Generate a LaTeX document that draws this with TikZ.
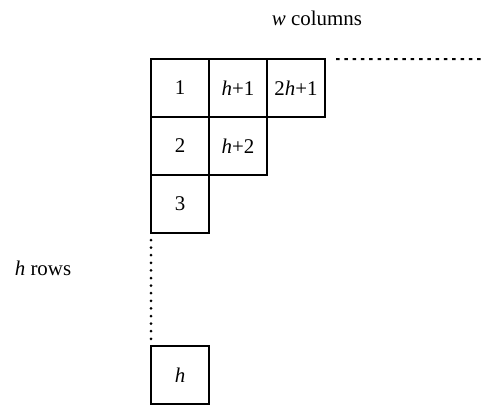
\documentclass[tikz,border=0pt]{standalone}
\usepackage{fontspec}
\setmainfont{Liberation Serif}
\usepackage{tikz}
\usetikzlibrary{positioning}

\tikzset{
    cell/.style={draw, minimum size=58bp, inner sep=0pt, outer sep=0pt},
    dotrow/.style={line width=2bp, dash pattern=on 3.5bp off 4.8bp},
    dotcol/.style={line width=3bp, line cap=round, dash pattern=on 0bp off 7.6bp}
}

\begin{document}
\begin{tikzpicture}[x=1bp, y=1bp, line width=2bp, font=\fontsize{21}{25}\selectfont]
    \useasboundingbox (0,0) rectangle (481,405);

    \node[cell] (c11) at (180,317) {1};
    \node[cell, right=0pt of c11] (c12) {\textit{h}+1};
    \node[cell, right=0pt of c12] (c13) {2\textit{h}+1};
    \node[cell, below=0pt of c11] (c21) {2};
    \node[cell, right=0pt of c21] (c22) {\textit{h}+2};
    \node[cell, below=0pt of c21] (c31) {3};

    \node[cell] (ch) at (180,30) {\textit{h}};

    \coordinate (wend) at (481,346);

    % continuation of the first row and of the first column
    \draw[dotrow] ([xshift=11bp]c13.north east) -- (wend);
    \draw[dotcol] ([yshift=-7bp]c31.south west) -- ([yshift=7bp]ch.north west);

    \node (wlab) at (317,387) {\textit{w} columns};
    \node (hlab) at (43,137) {\textit{h} rows};
\end{tikzpicture}
\end{document}
